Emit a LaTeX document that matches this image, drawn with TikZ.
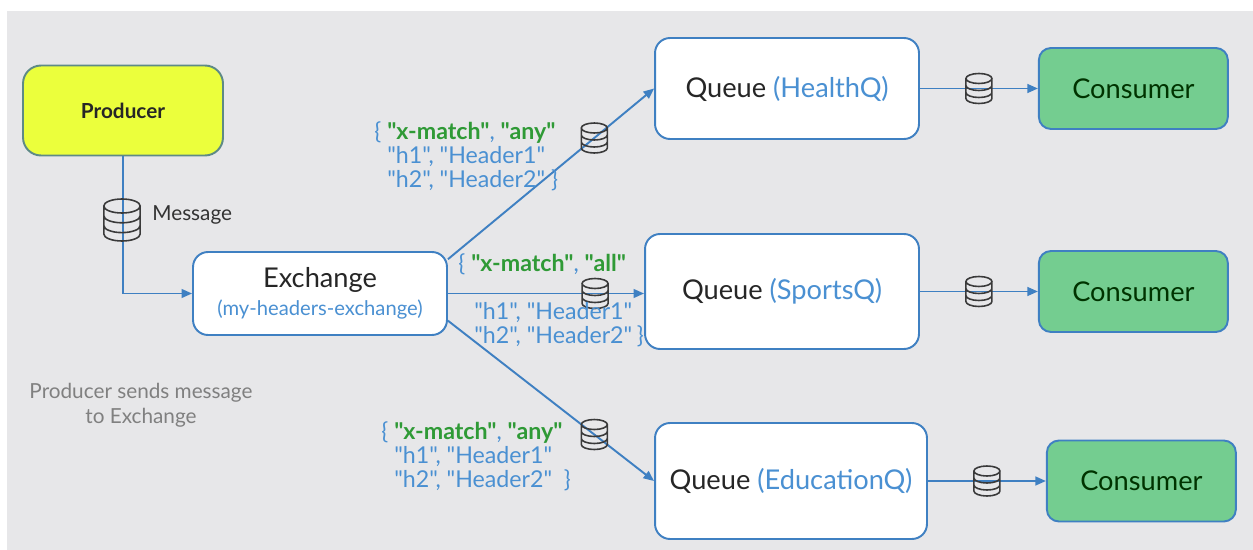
\documentclass[tikz,border=0pt]{standalone}
\usepackage{fontspec}
\setmainfont{Lato}[Ligatures=TeXOff]
\usepackage{xcolor}
\usepackage{tikz}
\usetikzlibrary{positioning, arrows.meta, calc}

\definecolor{bgGray}{HTML}{E7E7E9}
\definecolor{lineBlue}{HTML}{3F80C2}
\definecolor{txtBlue}{HTML}{4A90D2}
\definecolor{keyGreen}{HTML}{2F9A36}
\definecolor{prodYellow}{HTML}{EBFF3C}
\definecolor{prodEdge}{HTML}{5E8A86}
\definecolor{consGreen}{HTML}{74CD90}
\definecolor{iconGray}{HTML}{3A3A3A}

\newcommand{\matchline}[1]{\{ \textbf{\textcolor{keyGreen}{"x-match"}}, \textbf{\textcolor{keyGreen}{"#1"}}}

\tikzset{
    dbstack/.pic = {
        \draw[iconGray, line width=0.9pt]
            (0,-10) ellipse [x radius=13, y radius=5]
            (-13,-10) -- (-13,10) arc [start angle=180, end angle=0, x radius=13, y radius=5] -- (13,-10)
            (-13,-3) arc [start angle=180, end angle=0, x radius=13, y radius=5]
            (-13,4) arc [start angle=180, end angle=0, x radius=13, y radius=5];
    }
}

\begin{document}
\begin{tikzpicture}[
    x = 0.02cm, y = -0.02cm,
    box/.style = {
        draw=lineBlue, line width=1.1pt, rounded corners=0.3cm, fill=white,
        font=\fontsize{15.5}{18}\selectfont, text=black!85
    },
    consumer/.style = {
        box, fill=consGreen, rounded corners=0.24cm,
        minimum width=3.78cm, minimum height=1.62cm, text=black!80!green
    },
    conn/.style = {draw=lineBlue, line width=1.1pt, -{Triangle[length=6pt, width=5pt]}},
    hdr/.style = {inner sep=0, align=left, text=txtBlue, font=\fontsize{13.2}{13.8}\selectfont}
  ]
    \fill[bgGray] (7,11) rectangle (1253,550);  % background
    \useasboundingbox (0,0) rectangle (1253,550);

    \node[box, fill=prodYellow, draw=prodEdge, minimum width=4cm, minimum height=1.8cm,
          rounded corners=0.36cm, font=\fontsize{11.8}{14}\selectfont\bfseries] (prod) at (123,110.5) {Producer};  % producer
    \node[box, minimum width=5.08cm, minimum height=1.66cm, align=center] (exch) at (320,293.5)
        {Exchange\\[-2pt]{\fontsize{11.5}{13}\selectfont\color{txtBlue}(my-headers-exchange)}};  % exchange

    \node[box, minimum width=5.28cm, minimum height=2.02cm] (qh) at (787,88.5) {Queue \textcolor{txtBlue}{(HealthQ)}};
    \node[box, minimum width=5.48cm, minimum height=2.30cm] (qs) at (782,291.5) {Queue \textcolor{txtBlue}{(SportsQ)}};
    \node[box, minimum width=5.44cm, minimum height=2.32cm] (qe) at (791,481) {Queue \textcolor{txtBlue}{(EducationQ)}};

    \node[consumer, right=2.36cm of qh] (ch) {Consumer};
    \node[consumer, right=2.36cm of qs] (cs) {Consumer};
    \node[consumer, right=2.36cm of qe] (ce) {Consumer};

    % producer -> exchange
    \draw[conn] (prod.south) |- (exch.west);
    \pic[scale=1.4] at (122,220) {dbstack};
    \node[anchor=west, inner sep=0, font=\fontsize{11.8}{14}\selectfont, text=black!80] (msg) at (152,215) {Message};
    \node[align=center, inner sep=0, text=black!50, font=\fontsize{11.8}{14.2}\selectfont] (note) at (141,405)
        {Producer sends message\\to Exchange};

    % exchange -> queues
    \coordinate (qsin) at (exch.east -| qs.west);
    \draw[conn] (exch.15) -- (qh.west);
    \draw[conn] (exch.east) -- (qsin);
    \draw[conn] (exch.-12) -- (qe.west);
    \pic at ($(exch.15)!0.71!(qh.west)$) {dbstack};
    \pic at ($(exch.east)!0.75!(qsin)$) {dbstack};
    \pic at ($(exch.-12)!0.71!(qe.west)$) {dbstack};

    \node[hdr, anchor=north west] (hh) at (374,121)
        {\matchline{any}\\ \phantom{\{~}"h1", "Header1"\\ \phantom{\{~}"h2", "Header2" \}};
    \node[hdr, anchor=west] (hs1) at (458,264) {\matchline{all}};
    \node[hdr, anchor=north west] (hs2) at (474,302)
        {"h1", "Header1"\\ "h2", "Header2"\hspace{0.2em}\}};
    \node[hdr, anchor=north west] (he) at (381,421)
        {\matchline{any}\\ \phantom{\{~}"h1", "Header1"\\ \phantom{\{~}"h2", "Header2"\hspace{0.5em}\}};

    % queues -> consumers
    \draw[conn] (qh.east) -- (ch.west);
    \draw[conn] (qs.east) -- (cs.west);
    \draw[conn] (qe.east) -- (ce.west);
    \pic at ($(qh.east)!0.5!(ch.west)$) {dbstack};
    \pic at ($(qs.east)!0.5!(cs.west)$) {dbstack};
    \pic at ($(qe.east)!0.5!(ce.west)$) {dbstack};
\end{tikzpicture}
\end{document}
